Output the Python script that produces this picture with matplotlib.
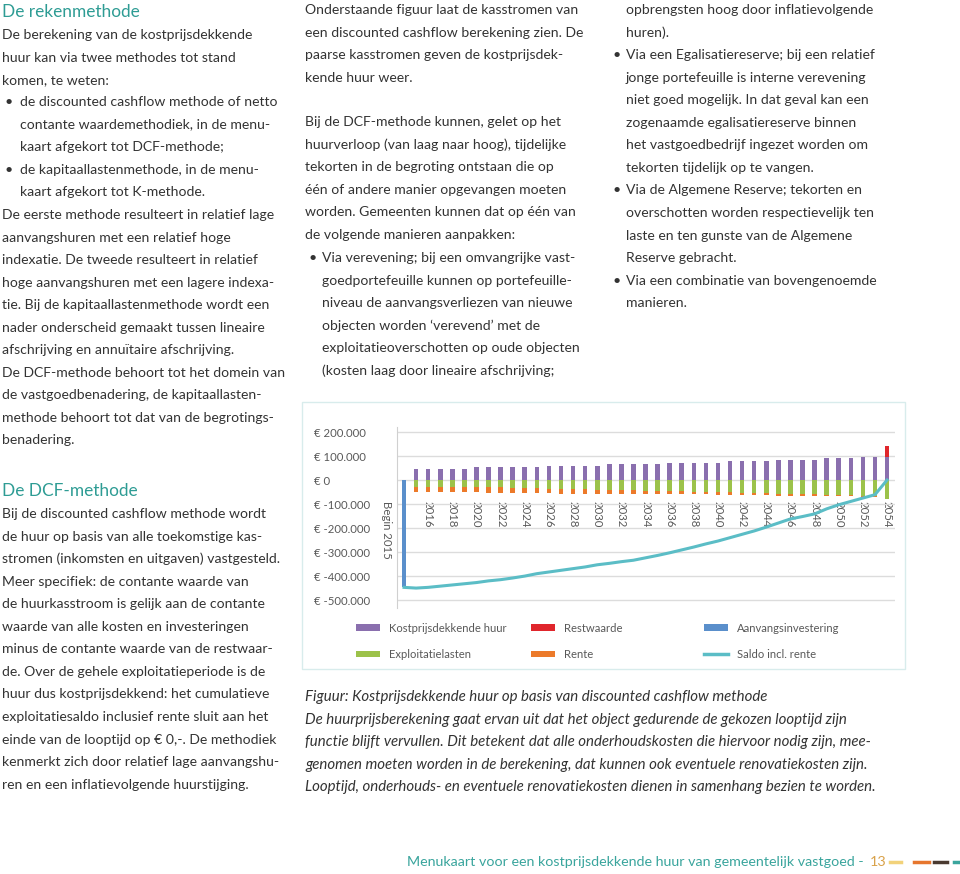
import matplotlib.pyplot as plt
import numpy as np
from matplotlib.patches import Patch, Rectangle
from matplotlib.lines import Line2D
from matplotlib.transforms import ScaledTranslation

W, H = 960, 874

# categorieen: begin 2015 + jaren 2015..2054
categories = ['Begin 2015'] + [str(j) for j in range(2015, 2055)]

# bedragen in duizenden euro's
huur = [0,
        48, 48, 48, 48, 48,
        55, 55, 55, 55, 55, 55,
        60, 60, 60, 60, 60,
        67, 67, 67, 67, 67,
        73, 73, 73, 73, 73,
        79, 79, 79, 79,
        85, 85, 85, 85,
        90, 90, 90,
        96, 96,
        96]
restwaarde = [0] * 40 + [45]
aanvang = [-447] + [0] * 40
lasten = [0,
          -27, -27, -28, -28, -29, -30, -31, -31, -32, -34,
          -35, -36, -37, -38, -39, -40, -41, -42, -43, -44,
          -45, -46, -47, -48, -49, -50, -51, -52, -53, -55,
          -57, -58, -59, -60, -61, -63, -64, -65, -66, -78]
rente = [0,
         -21, -21, -21, -21, -21, -21, -21, -21, -22, -22,
         -21, -20, -20, -19, -19, -18, -17, -16, -15, -14,
         -13, -13, -12, -12, -11, -11, -10, -10, -9, -9,
         -8, -8, -7, -6, -6, -5, -4, -4, -5, -2]
saldo = [-447,
         -450, -447, -442, -437, -432, -427, -420, -415, -408, -400,
         -390, -383, -376, -369, -362, -353, -347, -340, -334, -324,
         -314, -303, -291, -279, -266, -254, -240, -226, -212, -196,
         -179, -162, -152, -141, -120, -103, -89, -75, -61, 0]

yticks = [200000, 100000, 0, -100000, -200000, -300000, -400000, -500000]

purple = '#8a6fae'
red = '#e0262c'
green = '#9cc24a'
orange = '#ec7a2a'
blue = '#5a8fcb'
teal = '#5bbdc6'
grey = '#595959'
body = '#333333'
kop = '#2e9c94'

plt.rcParams['font.family'] = ['Lato', 'DejaVu Sans']
fig = plt.figure(figsize=(9.6, 8.74), dpi=100)


def txt(x, y, s, **kw):
    kw.setdefault('color', body)
    kw.setdefault('size', 10.1)
    fig.text(x / W, 1 - y / H, s, va='center', ha=kw.pop('ha', 'left'), **kw)


def blok(x, y0, regels, bullet_x=None, stap=22.55, **kw):
    for i, r in enumerate(regels):
        y = y0 + i * stap
        if r.startswith('* '):
            txt(bullet_x, y, '\u2022', **kw)
            r = r[2:]
        txt(x, y, r, **kw)


# linker kolom
txt(2, 12, 'De rekenmethode', color=kop, size=12.4)
blok(2, 35, ['De berekening van de kostprijsdekkende',
             'huur kan via twee methodes tot stand',
             'komen, te weten:'])
blok(20, 102, ['* de discounted cashflow methode of netto',
               'contante waardemethodiek, in de menu-',
               'kaart afgekort tot DCF-methode;',
               '* de kapitaallastenmethode, in de menu-',
               'kaart afgekort tot K-methode.'], bullet_x=5)
blok(2, 215, ['De eerste methode resulteert in relatief lage',
              'aanvangshuren met een relatief hoge',
              'indexatie. De tweede resulteert in relatief',
              'hoge aanvangshuren met een lagere indexa-',
              'tie. Bij de kapitaallastenmethode wordt een',
              'nader onderscheid gemaakt tussen lineaire',
              'afschrijving en annuïtaire afschrijving.',
              'De DCF-methode behoort tot het domein van',
              'de vastgoedbenadering, de kapitaallasten-',
              'methode behoort tot dat van de begrotings-',
              'benadering.'])
txt(2, 491, 'De DCF-methode', color=kop, size=12.4)
blok(2, 514, ['Bij de discounted cashflow methode wordt',
              'de huur op basis van alle toekomstige kas-',
              'stromen (inkomsten en uitgaven) vastgesteld.',
              'Meer specifiek: de contante waarde van',
              'de huurkasstroom is gelijk aan de contante',
              'waarde van alle kosten en investeringen',
              'minus de contante waarde van de restwaar-',
              'de. Over de gehele exploitatieperiode is de',
              'huur dus kostprijsdekkend: het cumulatieve',
              'exploitatiesaldo inclusief rente sluit aan het',
              'einde van de looptijd op € 0,-. De methodiek',
              'kenmerkt zich door relatief lage aanvangshu-',
              'ren en een inflatievolgende huurstijging.'])

# middelste kolom
blok(305, 10, ['Onderstaande figuur laat de kasstromen van',
               'een discounted cashflow berekening zien. De',
               'paarse kasstromen geven de kostprijsdek-',
               'kende huur weer.'])
blok(305, 122, ['Bij de DCF-methode kunnen, gelet op het',
                'huurverloop (van laag naar hoog), tijdelijke',
                'tekorten in de begroting ontstaan die op',
                'één of andere manier opgevangen moeten',
                'worden. Gemeenten kunnen dat op één van',
                'de volgende manieren aanpakken:'])
blok(322, 258, ['* Via verevening; bij een omvangrijke vast-',
                'goedportefeuille kunnen op portefeuille-',
                'niveau de aanvangsverliezen van nieuwe',
                'objecten worden \u2018verevend\u2019 met de',
                'exploitatieoverschotten op oude objecten',
                '(kosten laag door lineaire afschrijving;'], bullet_x=309)

# rechter kolom
blok(626, 10, ['opbrengsten hoog door inflatievolgende',
               'huren).',
               '* Via een Egalisatiereserve; bij een relatief',
               'jonge portefeuille is interne verevening',
               'niet goed mogelijk. In dat geval kan een',
               'zogenaamde egalisatiereserve binnen',
               'het vastgoedbedrijf ingezet worden om',
               'tekorten tijdelijk op te vangen.',
               '* Via de Algemene Reserve; tekorten en',
               'overschotten worden respectievelijk ten',
               'laste en ten gunste van de Algemene',
               'Reserve gebracht.',
               '* Via een combinatie van bovengenoemde',
               'manieren.'], bullet_x=612)

# onderschrift
blok(305, 697, ['Figuur: Kostprijsdekkende huur op basis van discounted cashflow methode',
                'De huurprijsberekening gaat ervan uit dat het object gedurende de gekozen looptijd zijn',
                'functie blijft vervullen. Dit betekent dat alle onderhoudskosten die hiervoor nodig zijn, mee-',
                'genomen moeten worden in de berekening, dat kunnen ook eventuele renovatiekosten zijn.',
                'Looptijd, onderhouds- en eventuele renovatiekosten dienen in samenhang bezien te worden.'],
     style='italic', size=10.8)

# kader rond de grafiek
fig.add_artist(Rectangle((302 / W, 1 - 669 / H), (905 - 302) / W, (669 - 402) / H,
                         transform=fig.transFigure, fill=False, edgecolor='#d8ecec', lw=1))

# grafiek
ax = fig.add_axes([397 / W, 1 - 608 / H, (895 - 397) / W, (608 - 427) / H])
x = np.arange(len(categories))
k = lambda v: np.array(v) * 1000
bw = 0.38
ax.bar(x, k(huur), width=bw, color=purple, zorder=2)
ax.bar(x, k(restwaarde), bottom=k(huur), width=bw, color=red, zorder=2)
ax.bar(x, k(lasten), width=bw, color=green, zorder=2)
ax.bar(x, k(rente), bottom=k(lasten), width=bw, color=orange, zorder=2)
ax.bar(x, k(aanvang), width=bw, color=blue, zorder=2)
ax.plot(x, k(saldo), color=teal, lw=2.2, zorder=3)

ax.set_xlim(-0.58, 40.66)
ax.set_ylim(-533000, 221000)
ax.set_yticks(yticks)
ax.set_yticklabels(['€ ' + f'{v:,}'.replace(',', '.') for v in yticks])
ax.yaxis.grid(True, color='#dcdcdc', lw=1, zorder=0)
ax.set_axisbelow(True)
ax.tick_params(axis='y', length=0, pad=60, labelsize=8.2, labelcolor=grey)
for lab in ax.get_yticklabels():
    lab.set_ha('left')
for s in ['top', 'right']:
    ax.spines[s].set_visible(False)
ax.spines['left'].set_color('#d0d0d0')
ax.spines['bottom'].set_position(('data', 0))
ax.spines['bottom'].set_visible(False)
ax.set_xticks(x[::2])
ax.set_xticklabels(categories[::2], rotation=-90)
ax.tick_params(axis='x', length=0, pad=15, labelsize=8.2, labelcolor=grey)
eerste = ax.get_xticklabels()[0]
eerste.set_transform(eerste.get_transform() + ScaledTranslation(-0.18, 0, fig.dpi_scale_trans))

# legenda in drie kolommen
kolommen = [
    [(Patch(facecolor=purple), 'Kostprijsdekkende huur'), (Patch(facecolor=green), 'Exploitatielasten')],
    [(Patch(facecolor=red), 'Restwaarde'), (Patch(facecolor=orange), 'Rente')],
    [(Patch(facecolor=blue), 'Aanvangsinvestering'), (Line2D([], [], color=teal, lw=2.5), 'Saldo incl. rente')],
]
for xs, kol in zip([350, 525, 698], kolommen):
    lg = fig.legend([h for h, _ in kol], [t for _, t in kol], loc='upper left',
                    bbox_to_anchor=(xs / W, 1 - 617 / H), frameon=False, borderpad=0,
                    fontsize=8.1, handlelength=2.2, handleheight=0.5, handletextpad=0.8,
                    labelspacing=1.35, labelcolor=grey)

# voettekst
txt(864, 862, 'Menukaart voor een kostprijsdekkende huur van gemeentelijk vastgoed -', color='#3aa59d',
    size=10.3, ha='right')
txt(870, 862, '13', color='#d9a24a', size=10.3)
for x1, x2, c in [(890, 901, '#f2d27a'), (914, 929, '#e6762e'), (934, 947, '#4a3a30'), (954, 962, '#3aa59d')]:
    fig.add_artist(Line2D([x1 / W, x2 / W], [1 - 862 / H] * 2, transform=fig.transFigure, color=c, lw=2.5))

fig.savefig('out.png', dpi=100)
